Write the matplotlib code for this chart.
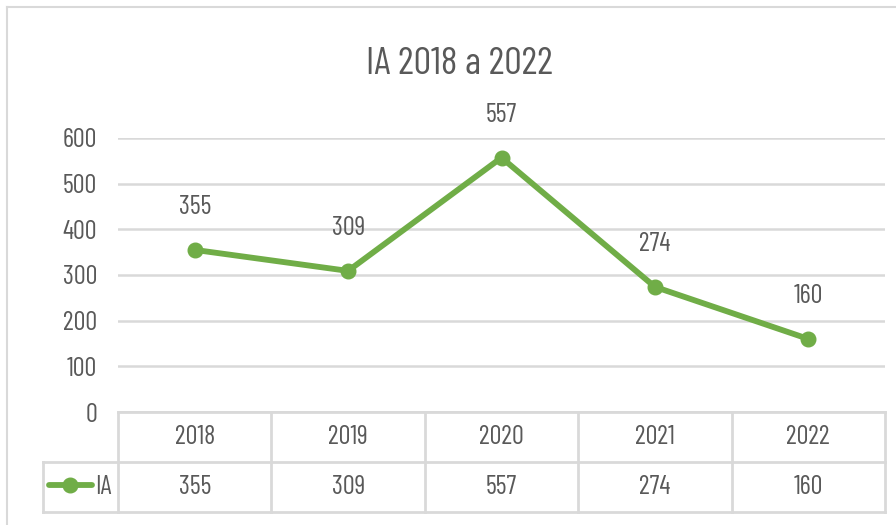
import numpy as np
import matplotlib.pyplot as plt
from matplotlib.lines import Line2D

plt.rcParams['font.family'] = ['Barlow Condensed', 'DejaVu Sans']

# data
years = ['2018', '2019', '2020', '2021', '2022']
ia_values = [355, 309, 557, 274, 160]
y_ticks = [0, 100, 200, 300, 400, 500, 600]
series_name = 'IA'
title = 'IA 2018 a 2022'

GREEN = '#70AD47'
GRID = '#D9D9D9'
TXT = '#595959'
FS = 19

W, H = 896, 525
fig = plt.figure(figsize=(W / 100, H / 100), dpi=100)

# chart border (light gray frame, right/bottom cut off)
fig.add_artist(Line2D([7 / W, 7 / W], [0, 1 - 7 / H], color=GRID, lw=1.5))
fig.add_artist(Line2D([7 / W, 1], [1 - 7 / H, 1 - 7 / H], color=GRID, lw=1.5))

# plot area
left, right, top, bottom = 118, 885, 138, 412
ax = fig.add_axes([left / W, 1 - bottom / H, (right - left) / W, (bottom - top) / H])
x = np.arange(len(years))
ax.set_xlim(-0.5, len(years) - 0.5)
ax.set_ylim(0, 600)
ax.set_yticks(y_ticks)
ax.set_xticks([])
ax.tick_params(axis='y', length=0, pad=15, labelsize=FS, labelcolor=TXT)
for s in ax.spines.values():
    s.set_visible(False)
ax.grid(axis='y', color=GRID, lw=1.8)
ax.set_axisbelow(True)

ax.plot(x, ia_values, color=GREEN, lw=4.2, marker='o', markersize=10.5,
        solid_capstyle='round', zorder=3)
for xi, v in zip(x, ia_values):
    ax.annotate(str(v), (xi, v), xytext=(0, 31), textcoords='offset points',
                ha='center', va='center', fontsize=FS, color=TXT)

fig.text(459 / W, 1 - 64 / H, title, ha='center', va='center',
         fontsize=28, color=TXT)

# data table below the plot
tab = fig.add_axes([left / W, 1 - 512 / H, (right - left) / W, 100 / H])
tab.set_xlim(-0.5, len(years) - 0.5)
tab.set_ylim(0, 2)
tab.axis('off')
col_w = (right - left) / len(years)
leg_x0 = -0.5 - (118 - 43) / col_w
kw = dict(color=GRID, lw=2, clip_on=False)
tab.plot([-0.5, len(years) - 0.5], [2, 2], **kw)
tab.plot([leg_x0, len(years) - 0.5], [1, 1], **kw)
tab.plot([leg_x0, len(years) - 0.5], [0, 0], **kw)
tab.plot([leg_x0, leg_x0], [0, 1], **kw)
for b in np.arange(len(years) + 1) - 0.5:
    tab.plot([b, b], [0, 2], **kw)
for xi, yr, v in zip(x, years, ia_values):
    tab.text(xi, 1.5, yr, ha='center', va='center', fontsize=FS, color=TXT)
    tab.text(xi, 0.5, str(v), ha='center', va='center', fontsize=FS, color=TXT)

# legend key in the table
px = lambda p: -0.5 + (p - 118) / col_w
tab.plot([px(49), px(92)], [0.55, 0.55], color=GREEN, lw=4.2, clip_on=False,
         solid_capstyle='round')
tab.plot([px(70)], [0.55], color=GREEN, marker='o', markersize=10.5, clip_on=False)
tab.text(px(95), 0.5, series_name, ha='left', va='center', fontsize=FS, color=TXT)

fig.savefig('out.png', dpi=100, facecolor='white')
